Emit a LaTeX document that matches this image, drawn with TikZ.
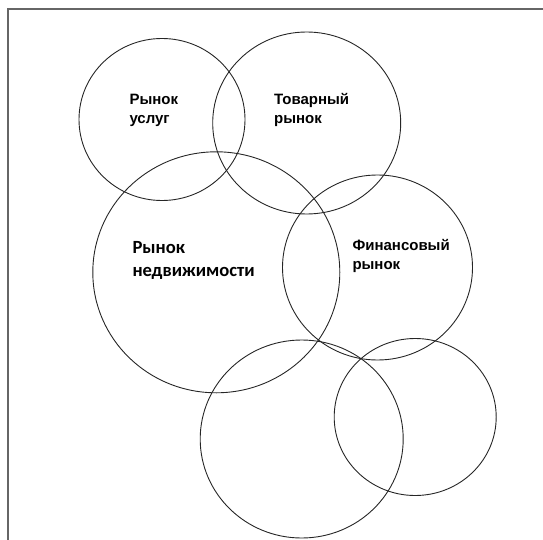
\documentclass[tikz,border=0pt]{standalone}
\usepackage{fontspec}
\setmainfont{Liberation Sans}
\newfontfamily\calib{Carlito}
\usetikzlibrary{shapes.geometric}
\tikzset{
  ring/.style={draw=black!85, line width=0.9pt, ellipse, inner sep=0pt},
  frameline/.style={draw=black!60, line width=1.6pt},
  lbl/.style={anchor=base west, inner sep=0pt, align=left, font=\bfseries\fontsize{15}{18.7}\selectfont},
  biglbl/.style={anchor=base west, inner sep=0pt, align=left, font=\calib\bfseries\fontsize{18.6}{23.2}\selectfont}
}
\begin{document}
\begin{tikzpicture}[x=1pt, y=-1pt]
\useasboundingbox (0,0) rectangle (543,540);
\coordinate (fb) at (8,540);
\coordinate (fc) at (8,9);
\coordinate (fr) at (543,9);
\draw[frameline] (fb) -- (fc) -- (fr);
\node[ring, minimum width=166pt, minimum height=162pt] (c1) at (162,119.5) {};
\node[ring, minimum width=188pt, minimum height=182pt] (c2) at (306.7,123) {};
\node[ring, minimum width=247pt, minimum height=241pt] (c3) at (216.3,272.3) {};
\node[ring, minimum width=190pt, minimum height=185pt] (c4) at (377.5,267.5) {};
\node[ring, minimum width=203pt, minimum height=198pt] (c5) at (301.7,439) {};
\node[ring, minimum width=162pt, minimum height=157pt] (c6) at (415.2,417) {};
\node[lbl] (t1) at (129.3,123.5) {Рынок\\услуг};
\node[lbl] (t2) at (274,123.5) {Товарный\\рынок};
\node[lbl] (t4) at (352.3,269.5) {Финансовый\\рынок};
\node[biglbl] (t3) at (132.3,276.5) {Рынок\\недвижимости};
\end{tikzpicture}
\end{document}
